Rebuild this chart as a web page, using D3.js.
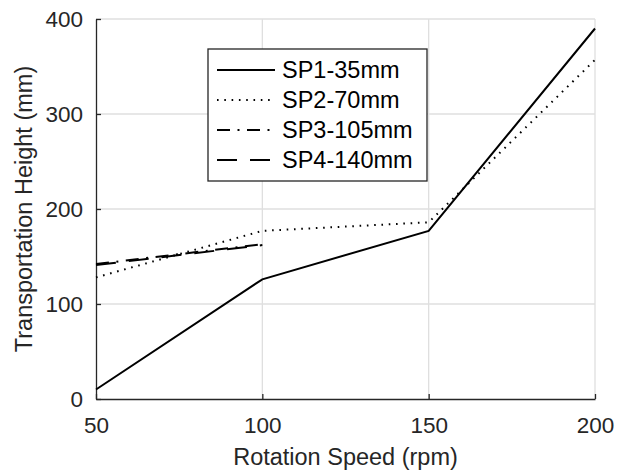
<!DOCTYPE html>
<html>
<head>
<meta charset="utf-8">
<script src="https://cdn.jsdelivr.net/npm/d3@7/dist/d3.min.js"></script>
<style>
  html, body { margin: 0; padding: 0; background: #fff; }
  svg text { font-family: "Liberation Sans", Arial, sans-serif; }
</style>
</head>
<body>
<div id="chart"></div>
<script>
// Chart data
var speeds = [50, 100, 150, 200];
var seriesNames = ['SP1-35mm', 'SP2-70mm', 'SP3-105mm', 'SP4-140mm'];
var sp1 = [10, 126, 177, 390];
var sp2 = [128, 177, 186, 357];
var sp3 = [142, 163];
var sp4 = [141, 162];
var xTicks = [50, 100, 150, 200];
var yTicks = [0, 100, 200, 300, 400];

var STYLES = [
  { dash: null },
  { dash: '1.6,5.7' },
  { dash: '13,7.5,2,7.5' },
  { dash: '20,13' }
];

var width = 622, height = 470;
var margin = { top: 19, right: 27, bottom: 71, left: 96 };
var iw = width - margin.left - margin.right;
var ih = height - margin.top - margin.bottom;

var svg = d3.select('#chart').append('svg')
  .attr('width', width)
  .attr('height', height);

var g = svg.append('g')
  .attr('transform', 'translate(' + margin.left + ',' + margin.top + ')');

var x = d3.scaleLinear().domain([50, 200]).range([0, iw]);
var y = d3.scaleLinear().domain([0, 400]).range([ih, 0]);

// grid
g.append('g')
  .selectAll('line.gx')
  .data(xTicks.slice(1))
  .join('line')
  .attr('x1', function (d) { return x(d); })
  .attr('x2', function (d) { return x(d); })
  .attr('y1', 0).attr('y2', ih)
  .attr('stroke', '#dfdfdf').attr('stroke-width', 1.3);

g.append('g')
  .selectAll('line.gy')
  .data(yTicks.slice(1))
  .join('line')
  .attr('x1', 0).attr('x2', iw)
  .attr('y1', function (d) { return y(d); })
  .attr('y2', function (d) { return y(d); })
  .attr('stroke', '#dfdfdf').attr('stroke-width', 1.3);

// axes
g.append('g')
  .attr('transform', 'translate(0,' + ih + ')')
  .call(d3.axisBottom(x).tickValues(xTicks).tickSize(-5).tickSizeOuter(0).tickPadding(18))
  .call(function (s) {
    s.select('.domain').attr('stroke', '#262626').attr('stroke-width', 1.3);
    s.selectAll('line').attr('stroke', '#262626').attr('stroke-width', 1.3);
    s.selectAll('text').attr('fill', '#262626').style('font-size', '22.5px').attr('dy', '0.71em');
  });

g.append('g')
  .call(d3.axisLeft(y).tickValues(yTicks).tickSize(-5).tickSizeOuter(0).tickPadding(13))
  .call(function (s) {
    s.select('.domain').attr('stroke', '#262626').attr('stroke-width', 1.3);
    s.selectAll('line').attr('stroke', '#262626').attr('stroke-width', 1.3);
    s.selectAll('text').attr('fill', '#262626').style('font-size', '22.5px');
  });

// axis labels
svg.append('text')
  .attr('x', margin.left + iw / 2)
  .attr('y', 465)
  .attr('text-anchor', 'middle')
  .attr('fill', '#262626')
  .style('font-size', '23.5px')
  .text('Rotation Speed (rpm)');

svg.append('text')
  .attr('transform', 'translate(31.5,' + (margin.top + ih / 2) + ') rotate(-90)')
  .attr('text-anchor', 'middle')
  .attr('fill', '#262626')
  .style('font-size', '23.5px')
  .text('Transportation Height (mm)');

// lines
var allSeries = [sp1, sp2, sp3, sp4];
var line = d3.line()
  .x(function (d, i) { return x(speeds[i]); })
  .y(function (d) { return y(d); });

allSeries.forEach(function (vals, k) {
  g.append('path')
    .datum(vals)
    .attr('fill', 'none')
    .attr('stroke', '#000')
    .attr('stroke-width', 2)
    .attr('stroke-dasharray', STYLES[k].dash)
    .attr('d', line);
});

// legend
var lx = 208, ly = 49, lw = 219, lh = 132;
var legend = svg.append('g');
legend.append('rect')
  .attr('x', lx).attr('y', ly)
  .attr('width', lw).attr('height', lh)
  .attr('fill', '#fff')
  .attr('stroke', '#262626').attr('stroke-width', 1.3);

var rows = legend.selectAll('g.item')
  .data(seriesNames)
  .join('g')
  .attr('transform', function (d, i) { return 'translate(' + lx + ',' + (ly + 21 + i * 30) + ')'; });

rows.append('line')
  .attr('x1', 9).attr('x2', 67)
  .attr('y1', 0).attr('y2', 0)
  .attr('stroke', '#000')
  .attr('stroke-width', 2)
  .attr('stroke-dasharray', function (d, i) { return STYLES[i].dash; });

rows.append('text')
  .attr('x', 74)
  .attr('y', 0)
  .attr('dy', '0.35em')
  .attr('fill', '#000')
  .style('font-size', '23.5px')
  .text(function (d) { return d; });
</script>
</body>
</html>
